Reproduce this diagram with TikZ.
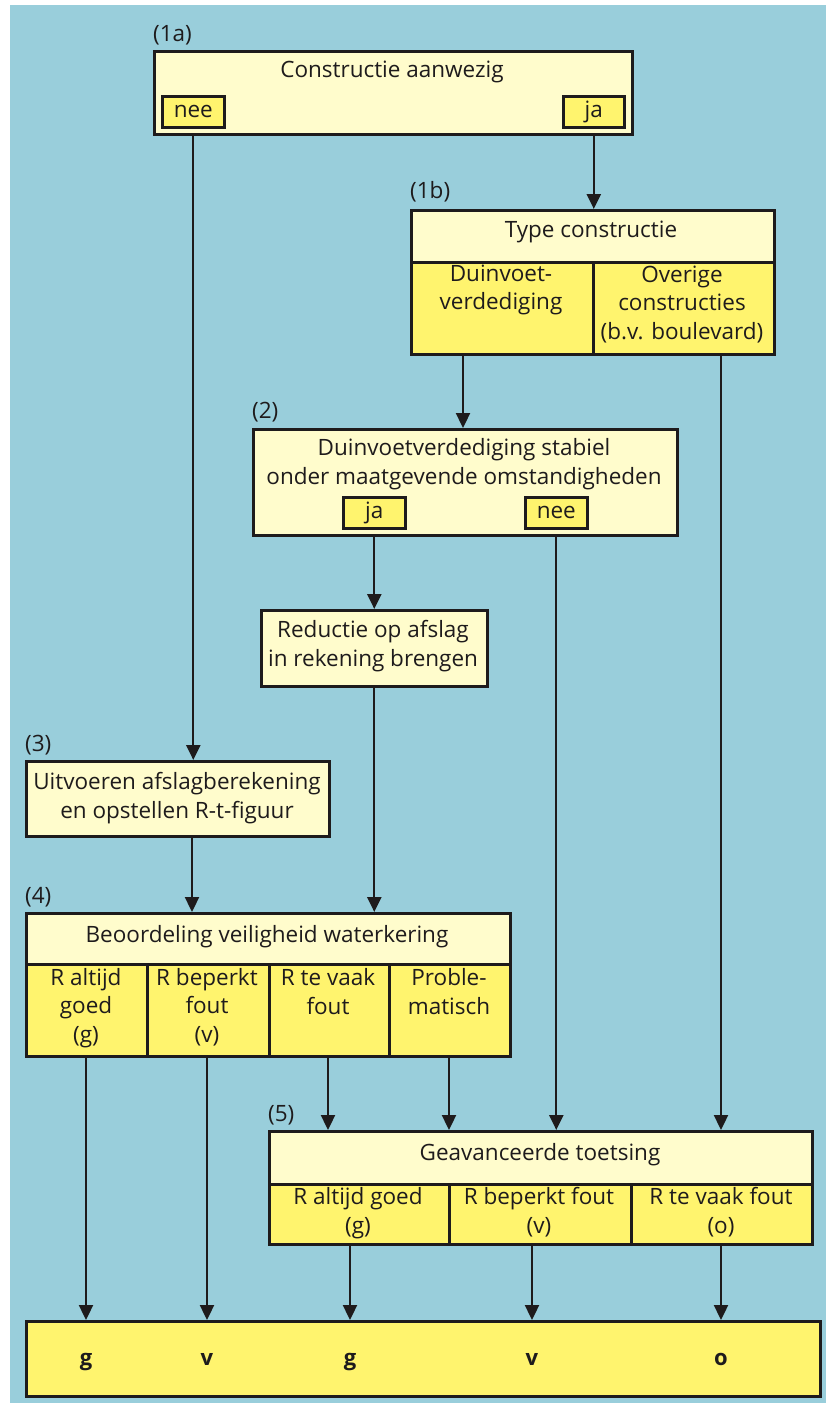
\documentclass[tikz,border=0pt]{standalone}
\usepackage{fontspec}
\setmainfont{Open Sans}
\usetikzlibrary{arrows.meta,positioning}
\definecolor{bgblue}{RGB}{153,206,219}
\definecolor{lighty}{RGB}{255,252,204}
\definecolor{darky}{RGB}{255,244,110}
\definecolor{ink}{RGB}{30,27,28}
\newcommand{\sst}{\vrule height16.5pt depth5.5pt width0pt}
\begin{document}
\begin{tikzpicture}[x=1pt,y=-1pt,
  every node/.style={font=\fontsize{22.5}{28.5}\selectfont, text=ink},
  lbox/.style={draw=ink, line width=2.6pt, fill=lighty, inner sep=0pt},
  dbox/.style={draw=ink, line width=2.6pt, fill=darky, inner sep=0pt},
  txt/.style={inner sep=0pt, align=center},
  tag/.style={inner sep=0pt, anchor=west},
  resl/.style={txt, font=\fontsize{22}{26}\selectfont\bfseries},
  arr/.style={draw=ink, line width=2.3pt, -{Triangle[length=15pt,width=14pt]}}]
\useasboundingbox (0,0) rectangle (826,1403);
\fill[white] (0,0) rectangle (826,1403);
\fill[bgblue] (10,5) rectangle (826,1403);

% ---------- box shapes ----------
\newcommand{\bx}[6]{\node[#1, anchor=north west, minimum width=#4pt-#2pt, minimum height=#5pt-#3pt] (#6) at (#2,#3) {};}
% (1a)
\bx{lbox}{153}{50}{631}{133}{b1a}
\bx{dbox}{161}{95}{223}{126}{nee1}
\bx{dbox}{562}{95}{623}{126}{ja1}
% (1b)
\bx{lbox}{410}{209}{773}{261}{b1bh}
\bx{dbox}{410}{261}{592}{353}{b1ba}
\bx{dbox}{592}{261}{773}{353}{b1bb}
% (2)
\bx{lbox}{252}{428}{676}{534}{b2}
\bx{dbox}{342}{496}{404}{527}{ja2}
\bx{dbox}{524}{496}{586}{527}{nee2}
% reductie
\bx{lbox}{260}{609}{486}{685}{bred}
% (3)
\bx{lbox}{25}{760}{328}{835}{b3}
% (4)
\bx{lbox}{25}{912}{509}{963}{b4h}
\bx{dbox}{25}{963}{146}{1055}{b4a}
\bx{dbox}{146}{963}{268}{1055}{b4b}
\bx{dbox}{268}{963}{388}{1055}{b4c}
\bx{dbox}{388}{963}{509}{1055}{b4d}
% (5)
\bx{lbox}{268}{1130}{811}{1183}{b5h}
\bx{dbox}{268}{1183}{448}{1243}{b5a}
\bx{dbox}{448}{1183}{630}{1243}{b5b}
\bx{dbox}{630}{1183}{811}{1243}{b5c}
% result
\bx{dbox}{25}{1320}{819}{1395}{bres}

% ---------- texts ----------
\node[txt] (t1a) at (392,72) {\sst Constructie aanwezig};
\node[txt] (tnee1) at (nee1) {\sst nee};
\node[txt] (tja1) at (ja1) {\sst ja};
\node[tag] (l1a) at (153,35) {(1a)};

\node[tag] (l1b) at (410,192) {(1b)};
\node[txt] (t1b) at (591,232) {\sst Type constructie};
\node[txt] (t1ba) at (501,290) {\sst Duinvoet-\\\sst verdediging};
\node[txt] (t1bb) at (682,305) {\sst Overige\\\sst constructies\\\sst (b.v. boulevard)};

\node[tag] (l2) at (252,412) {(2)};
\node[txt] (t2) at (464,464) {\sst Duinvoetverdediging stabiel\\\sst onder maatgevende omstandigheden};
\node[txt] (tja2) at (ja2) {\sst ja};
\node[txt] (tnee2) at (nee2) {\sst nee};

\node[txt] (tred) at (373,646) {\sst Reductie op afslag\\\sst in rekening brengen};

\node[tag] (l3) at (25,745) {(3)};
\node[txt] (t3) at (177,798) {\sst Uitvoeren afslagberekening\\\sst en opstellen R-t-figuur};

\node[tag] (l4) at (25,897) {(4)};
\node[txt] (t4) at (267,937) {\sst Beoordeling veiligheid waterkering};
\node[txt] (t4a) at (86,1008) {\sst R altijd\\\sst goed\\\sst (g)};
\node[txt] (t4b) at (207,1008) {\sst R beperkt\\\sst fout\\\sst (v)};
\node[txt] (t4c) at (328,994) {\sst R te vaak\\\sst fout};
\node[txt] (t4d) at (449,994) {\sst Proble-\\\sst matisch};

\node[tag] (l5) at (268,1115) {(5)};
\node[txt] (t5) at (540,1155) {\sst Geavanceerde toetsing};
\node[txt] (t5a) at (358,1213) {\sst R altijd goed\\\sst (g)};
\node[txt] (t5b) at (539,1213) {\sst R beperkt fout\\\sst (v)};
\node[txt] (t5c) at (721,1213) {\sst R te vaak fout\\\sst (o)};

\node[resl] (r1) at (86,1360) {\sst g};
\node[resl] (r2) at (207,1360) {\sst v};
\node[resl] (r3) at (350,1360) {\sst g};
\node[resl] (r4) at (532,1360) {\sst v};
\node[resl] (r5) at (721,1360) {\sst o};

% ---------- connectors ----------
\coordinate (c1) at (463,353);
\coordinate (c2) at (721,353);
\coordinate (c3) at (192,835);
\coordinate (x328) at (328,1055);
\coordinate (x449) at (449,1055);
\coordinate (x86) at (86,1055);
\coordinate (x207) at (207,1055);
\coordinate (x350) at (350,1243);
\coordinate (x532) at (532,1243);
\coordinate (x721) at (721,1243);

\draw[arr] (nee1 |- b1a.south) -- (nee1 |- b3.north);
\draw[arr] (ja1 |- b1a.south) -- (ja1 |- b1bh.north);
\draw[arr] (c1) -- (c1 |- b2.north);
\draw[arr] (c2) -- (c2 |- b5h.north);
\draw[arr] (ja2 |- b2.south) -- (ja2 |- bred.north);
\draw[arr] (nee2 |- b2.south) -- (nee2 |- b5h.north);
\draw[arr] (c3) -- (c3 |- b4h.north);
\draw[arr] (bred.south) -- (bred.south |- b4h.north);
\draw[arr] (x86) -- (x86 |- bres.north);
\draw[arr] (x207) -- (x207 |- bres.north);
\draw[arr] (x328) -- (x328 |- b5h.north);
\draw[arr] (x449) -- (x449 |- b5h.north);
\draw[arr] (x350) -- (x350 |- bres.north);
\draw[arr] (x532) -- (x532 |- bres.north);
\draw[arr] (x721) -- (x721 |- bres.north);
\end{tikzpicture}
\end{document}
